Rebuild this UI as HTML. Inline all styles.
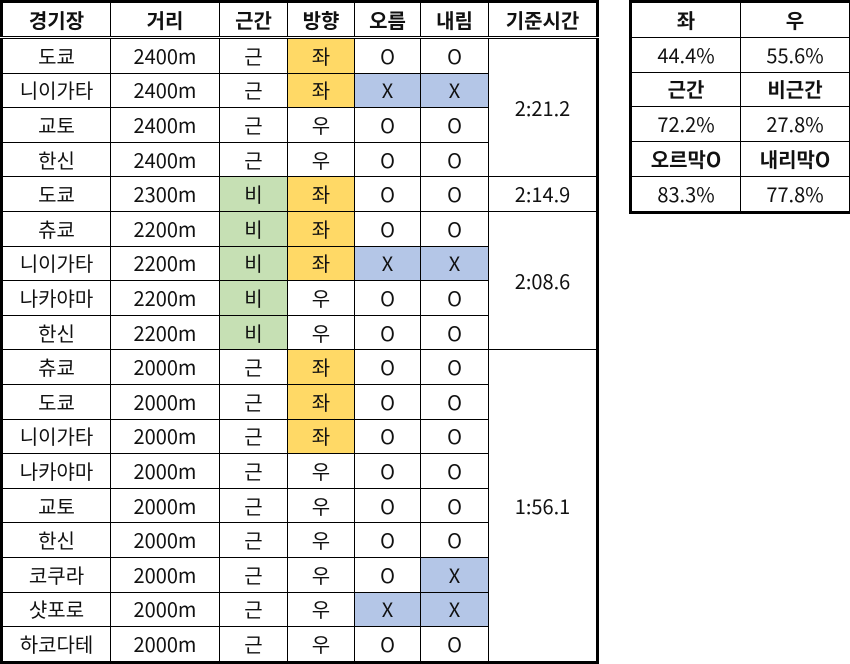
<!DOCTYPE html>
<html><head><meta charset="utf-8"><style>
body{margin:0;width:850px;height:663px;background:#fff;overflow:hidden;font-family:"Noto Sans CJK KR","Liberation Sans",sans-serif;color:#111}
table{border-collapse:collapse;table-layout:fixed;position:absolute}
td,th{border:1px solid #000;text-align:center;padding:0;font-size:20px;font-weight:normal;line-height:1;overflow:hidden}
th{font-weight:bold;font-size:20px}
#main{left:0;top:0;border:3px solid #000;width:599px}
#main th{height:33px;border-bottom:3px double #000}
#main td{height:33.6px}
#side{left:629px;top:0;border:3px solid #000;width:220px}
#side td{height:33.8px}
.y{background:#ffd966}.b{background:#b4c6e7}.g{background:#c6e0b4}
</style></head><body>
<table id="main">
<colgroup><col style="width:109px"><col style="width:109px"><col style="width:68px"><col style="width:67px"><col style="width:66px"><col style="width:68px"><col style="width:109px"></colgroup>
<tr><th>경기장</th><th>거리</th><th>근간</th><th>방향</th><th>오름</th><th>내림</th><th>기준시간</th></tr>
<tr><td>도쿄</td><td>2400m</td><td>근</td><td class="y">좌</td><td>O</td><td>O</td><td rowspan="4">2:21.2</td></tr>
<tr><td>니이가타</td><td>2400m</td><td>근</td><td class="y">좌</td><td class="b">X</td><td class="b">X</td></tr>
<tr><td>교토</td><td>2400m</td><td>근</td><td>우</td><td>O</td><td>O</td></tr>
<tr><td>한신</td><td>2400m</td><td>근</td><td>우</td><td>O</td><td>O</td></tr>
<tr><td>도쿄</td><td>2300m</td><td class="g">비</td><td class="y">좌</td><td>O</td><td>O</td><td>2:14.9</td></tr>
<tr><td>츄쿄</td><td>2200m</td><td class="g">비</td><td class="y">좌</td><td>O</td><td>O</td><td rowspan="4">2:08.6</td></tr>
<tr><td>니이가타</td><td>2200m</td><td class="g">비</td><td class="y">좌</td><td class="b">X</td><td class="b">X</td></tr>
<tr><td>나카야마</td><td>2200m</td><td class="g">비</td><td>우</td><td>O</td><td>O</td></tr>
<tr><td>한신</td><td>2200m</td><td class="g">비</td><td>우</td><td>O</td><td>O</td></tr>
<tr><td>츄쿄</td><td>2000m</td><td>근</td><td class="y">좌</td><td>O</td><td>O</td><td rowspan="9">1:56.1</td></tr>
<tr><td>도쿄</td><td>2000m</td><td>근</td><td class="y">좌</td><td>O</td><td>O</td></tr>
<tr><td>니이가타</td><td>2000m</td><td>근</td><td class="y">좌</td><td>O</td><td>O</td></tr>
<tr><td>나카야마</td><td>2000m</td><td>근</td><td>우</td><td>O</td><td>O</td></tr>
<tr><td>교토</td><td>2000m</td><td>근</td><td>우</td><td>O</td><td>O</td></tr>
<tr><td>한신</td><td>2000m</td><td>근</td><td>우</td><td>O</td><td>O</td></tr>
<tr><td>코쿠라</td><td>2000m</td><td>근</td><td>우</td><td>O</td><td class="b">X</td></tr>
<tr><td>샷포로</td><td>2000m</td><td>근</td><td>우</td><td class="b">X</td><td class="b">X</td></tr>
<tr><td>하코다테</td><td>2000m</td><td>근</td><td>우</td><td>O</td><td>O</td></tr>
</table>
<table id="side">
<colgroup><col style="width:110px"><col style="width:110px"></colgroup>
<tr><td style="font-weight:bold">좌</td><td style="font-weight:bold">우</td></tr>
<tr><td>44.4%</td><td>55.6%</td></tr>
<tr><td style="font-weight:bold">근간</td><td style="font-weight:bold">비근간</td></tr>
<tr><td>72.2%</td><td>27.8%</td></tr>
<tr><td style="font-weight:bold">오르막O</td><td style="font-weight:bold">내리막O</td></tr>
<tr><td>83.3%</td><td>77.8%</td></tr>
</table>
</body></html>
